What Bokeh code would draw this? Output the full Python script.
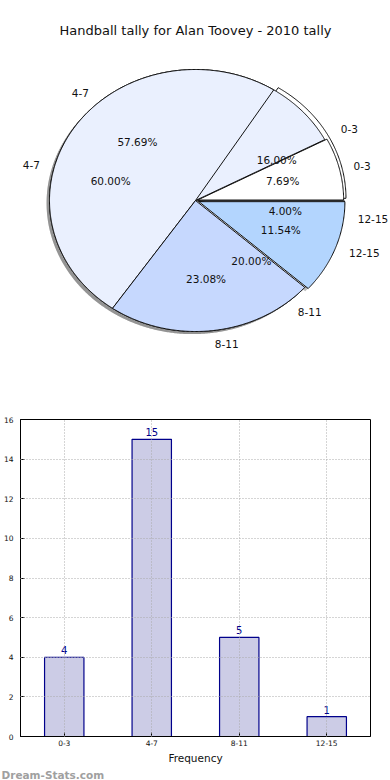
import numpy as np
from bokeh.plotting import figure
from bokeh.models import Range1d, FactorRange, Title, SingleIntervalTicker
from bokeh.embed import file_html
from bokeh.resources import INLINE
from bokeh.core.properties import value

# ---------------- data ----------------
categories = ["0-3", "4-7", "8-11", "12-15"]
tally_2010 = [4, 15, 5, 1]          # bar chart + back pie (16 / 60 / 20 / 4 %)
tally_front = [2, 15, 6, 3]         # front pie (7.69 / 57.69 / 23.08 / 11.54 %)
pie_colors = ["#ffffff", "#eaf0fe", "#c6d8fe", "#b3d5fe"]
explode_back = [0.035, 0.0, 0.0, 0.02]
explode_front = [0.015, 0.0, 0.0, 0.025]
title_text = "Handball tally for Alan Toovey - 2010 tally"
x_label = "Frequency"
y_ticks_max = 16
watermark = "Dream-Stats.com"

FONT = value("DejaVu Sans")


def wedge_shapes(vals, explode):
    vals = np.asarray(vals, float)
    frac = vals / vals.sum()
    edges = np.concatenate([[0.0], np.cumsum(frac)]) * 360.0
    out = []
    for i in range(len(vals)):
        a0, a1 = edges[i], edges[i + 1]
        mid = np.radians((a0 + a1) / 2)
        cx, cy = explode[i] * np.cos(mid), explode[i] * np.sin(mid)
        t = np.radians(np.linspace(a0, a1, max(int(a1 - a0), 2) * 2))
        xs = [cx] + list(cx + np.cos(t)) + [cx]
        ys = [cy] + list(cy + np.sin(t)) + [cy]
        out.append(dict(xs=xs, ys=ys, mid=mid, cx=cx, cy=cy,
                        frac=frac[i], a0=a0, a1=a1))
    return out


back = wedge_shapes(tally_2010, explode_back)
front = wedge_shapes(tally_front, explode_front)

# ---------------- pie figure ----------------
PW, PH = 390, 400
p = figure(width=PW, height=PH, output_backend="svg", toolbar_location=None,
           x_range=Range1d(-1.3356, 1.3356), y_range=Range1d(-1.5267, 1.5267),
           x_axis_location=None, y_axis_location=None, title=None,
           min_border_left=0, min_border_right=0, min_border_top=0,
           min_border_bottom=0, tools="")
p.grid.visible = False
p.outline_line_color = None

sh = 0.02
for w in back + front:
    p.patch([x - sh for x in w["xs"]], [y - sh for y in w["ys"]],
            fill_color="#666666", fill_alpha=0.45, line_color=None)
for w in back:
    p.patch(w["xs"], w["ys"], fill_color="#ffffff", line_color="#111111",
            line_width=1)
for w, c in zip(front, pie_colors):
    p.patch(w["xs"], w["ys"], fill_color=c, line_color="#111111", line_width=1)

# boundary of the back pie between its first and second wedge
w47 = back[1]
a = np.radians(w47["a0"])
p.segment(x0=[w47["cx"]], y0=[w47["cy"]],
          x1=[w47["cx"] + np.cos(a)], y1=[w47["cy"] + np.sin(a)],
          line_color="#111111", line_width=1)

for shapes in (back, front):
    for w, cat in zip(shapes, categories):
        c, s = np.cos(w["mid"]), np.sin(w["mid"])
        p.text(x=[w["cx"] + 1.1 * c], y=[w["cy"] + 1.1 * s], text=[cat],
               text_font=FONT, text_font_size="10.5px", text_color="#111111",
               text_align="left" if c >= 0 else "right", text_baseline="middle")
        p.text(x=[w["cx"] + 0.6 * c], y=[w["cy"] + 0.6 * s],
               text=["%.2f%%" % (w["frac"] * 100)],
               text_font=FONT, text_font_size="10.5px", text_color="#111111",
               text_align="center", text_baseline="middle")

# chart title drawn as text at the top centre of the pie panel
p.text(x=[0.0], y=[1.5267], y_offset=30, text=[title_text], text_font=FONT,
       text_font_size="13px", text_color="#111111", text_align="center",
       text_baseline="middle")

# ---------------- bar figure ----------------
BH = 380
q = figure(width=PW, height=BH, output_backend="svg", toolbar_location=None,
           x_range=FactorRange(factors=categories),
           y_range=Range1d(0, y_ticks_max), tools="", title=None,
           min_border_left=19, min_border_right=20, min_border_top=19,
           min_border_bottom=0)
q.vbar(x=categories, top=tally_2010, width=0.45, fill_color="#ccccE6",
       line_color="#00008B", line_width=1.2)
q.text(x=categories, y=tally_2010, text=[str(v) for v in tally_2010],
       y_offset=-3, text_font=FONT, text_font_size="10px",
       text_color="#00008B", text_align="center", text_baseline="bottom")

q.outline_line_color = "#000000"
for ax in (q.xaxis[0], q.yaxis[0]):
    ax.axis_line_color = "#000000"
    ax.major_tick_in = 4
    ax.major_tick_out = 0
    ax.minor_tick_line_color = None
    ax.major_label_text_font = "DejaVu Sans"
    ax.major_label_text_color = "#111111"
    ax.major_label_standoff = 3
q.xaxis.major_label_text_font_size = "7.5px"
q.yaxis.major_label_text_font_size = "7.5px"
q.yaxis.ticker = SingleIntervalTicker(interval=2)
q.xaxis.axis_label = x_label
q.xaxis.axis_label_text_font = "DejaVu Sans"
q.xaxis.axis_label_text_font_style = "normal"
q.xaxis.axis_label_text_font_size = "10.5px"
q.xaxis.axis_label_text_color = "#111111"
q.xaxis.axis_label_standoff = 3
for g in (q.xgrid[0], q.ygrid[0]):
    g.grid_line_color = "#aaaaaa"
    g.grid_line_dash = "1 2"
    g.level = "overlay"

q.add_layout(Title(text=watermark, align="left", offset=-19, standoff=0,
                   text_font="DejaVu Sans", text_font_size="10.5px",
                   text_font_style="bold", text_color="#a0a0a0"), "below")

open("out.html", "w").write(file_html([p, q], INLINE))
